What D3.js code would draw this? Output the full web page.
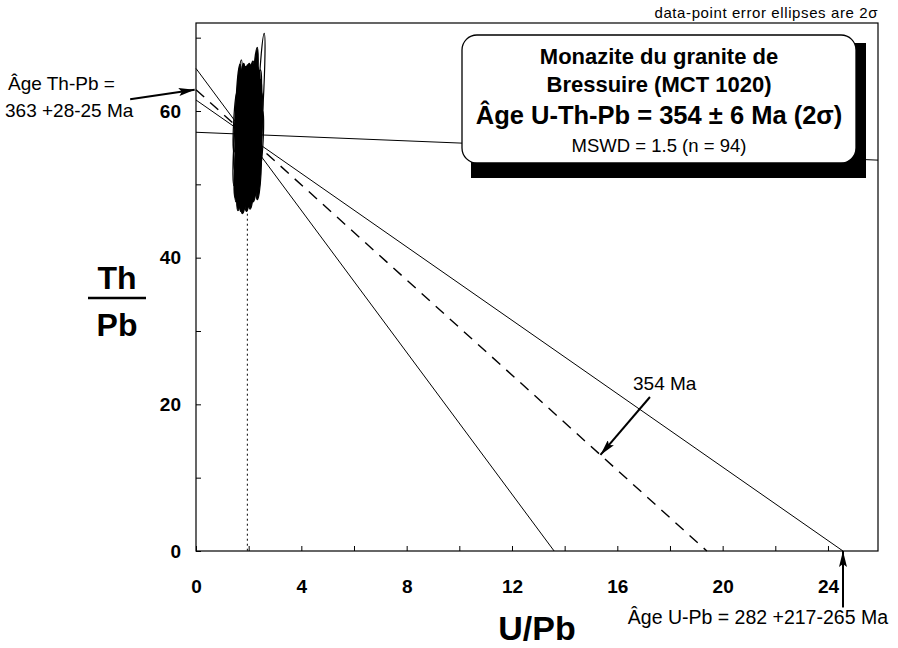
<!DOCTYPE html>
<html>
<head>
<meta charset="utf-8">
<script src="https://cdn.jsdelivr.net/npm/d3@7"></script>
<style>
body { margin: 0; background: white; }
text { font-family: "Liberation Sans", Arial, sans-serif; fill: black; }
</style>
</head>
<body>
<svg id="chart"></svg>
<script>
var chart_w = 898;
var chart_h = 648;

// plot frame
var left = 196, right = 878, top_y = 23, bottom = 551;

// axis ticks
var x_ticks = [0, 2, 4, 6, 8, 10, 12, 14, 16, 18, 20, 22, 24];
var y_ticks = [0, 10, 20, 30, 40, 50, 60, 70];

// isochron lines: start (U/Pb, Th/Pb) -> end (U/Pb, Th/Pb)
var iso_u0 = [0, 0, 0, 0];
var iso_th0 = [57.1, 65.8, 62.9, 61.5];
var iso_u1 = [25.9, 13.6, 19.4, 24.57];
var iso_th1 = [53.3, 0, 0, 0];
var iso_dash = [false, false, true, false];

// vertical dotted line (U/Pb of the data centroid)
var centroid_u = 1.95;
var centroid_th = 56.9;

// data point error ellipses (2 sigma): centre and half axes
var ell_u = [1.52,1.56,1.60,1.63,1.66,1.68,1.71,1.73,1.75,1.77,1.79,1.81,1.83,1.84,1.86,1.88,1.89,1.91,1.93,1.94,
	1.96,1.98,2.00,2.01,2.03,2.05,2.06,2.08,2.10,2.11,2.13,2.15,2.16,2.18,2.20,2.21,2.23,2.24,2.26,2.28,
	2.30,2.31,2.33,2.35,2.37,2.39,2.42,2.45,2.47,1.58,1.64,1.70,1.74,1.78,1.82,1.85,1.87,1.90,1.92,1.95,
	1.97,1.99,2.02,2.04,2.07,2.09,2.12,2.14,2.17,2.19,2.22,2.25,2.27,2.29,2.32,2.34,2.36,1.61,1.69,1.76,
	1.80,1.92,1.96,2.04,2.10,2.17,2.22,2.29,2.38,1.54,1.50,1.99,2.13,2.40];
var ell_th = [55.0,57.8,53.1,60.6,51.0,56.2,58.9,54.4,49.9,57.0,60.2,52.6,55.7,50.4,58.3,61.1,53.9,56.6,59.4,51.8,
	55.1,57.7,60.3,53.0,56.0,58.8,50.9,54.6,57.3,60.9,52.4,55.8,58.5,61.6,54.0,56.9,59.7,62.9,53.3,55.5,
	58.1,60.4,56.4,53.8,58.9,55.2,57.6,61.0,56.0,56.4,58.2,53.5,61.3,55.0,57.5,53.0,59.6,55.4,57.9,52.3,
	59.0,55.5,57.4,53.7,59.9,55.9,58.0,53.9,60.0,56.3,58.3,54.8,60.9,57.0,54.9,59.5,57.2,62.0,50.2,63.0,
	48.8,63.2,49.3,63.1,49.8,63.3,50.9,63.0,51.5,52.0,58.5,64.0,64.6,62.6];
var ell_du = [0.09,0.10,0.11,0.09,0.10,0.12,0.11,0.13,0.09,0.12,0.10,0.13,0.14,0.10,0.12,0.11,0.14,0.13,0.12,0.12,
	0.15,0.14,0.12,0.13,0.15,0.13,0.11,0.14,0.15,0.12,0.12,0.14,0.13,0.10,0.13,0.14,0.12,0.09,0.12,0.13,
	0.12,0.11,0.12,0.10,0.11,0.10,0.09,0.10,0.08,0.08,0.10,0.11,0.09,0.12,0.13,0.12,0.11,0.14,0.13,0.12,
	0.12,0.14,0.13,0.13,0.12,0.14,0.12,0.12,0.11,0.13,0.12,0.12,0.10,0.12,0.11,0.10,0.10,0.08,0.09,0.09,
	0.10,0.10,0.10,0.10,0.10,0.09,0.10,0.09,0.09,0.08,0.07,0.09,0.08,0.08];
var ell_dth = [5.2,6.0,5.5,6.4,4.6,5.8,6.3,5.1,3.6,6.8,5.9,5.4,6.1,4.0,5.7,5.0,5.6,6.2,6.0,4.7,
	5.9,6.5,5.6,5.2,6.3,5.8,3.9,5.5,6.1,5.3,4.9,5.7,6.4,4.8,5.4,6.0,5.5,5.8,4.8,5.6,
	5.9,5.2,5.0,4.2,5.4,4.6,4.9,9.6,4.0,4.3,5.0,4.6,4.9,5.2,5.5,4.4,5.1,5.3,4.9,4.5,
	5.4,5.0,5.1,4.6,5.2,5.3,4.9,4.4,5.0,5.2,4.7,4.5,4.6,4.8,4.3,4.5,4.4,4.4,3.4,3.5,
	2.8,3.1,3.0,3.2,3.2,3.0,3.3,3.1,3.6,3.8,4.1,2.5,2.2,3.0];

// arrows (data units)
var arrow_thpb = [[-2.5, 61.6], [-0.05, 62.9]];
var arrow_354 = [[17.24, 21.0], [15.36, 13.1]];
var arrow_upb = [[24.57, -7.7], [24.57, 0]];

var svg = d3.select("#chart").attr("width", chart_w).attr("height", chart_h)
	.style("background", "white");

var x = d3.scaleLinear().domain([0, 25.9]).range([left, right]);
var y = d3.scaleLinear().domain([0, 72]).range([bottom, top_y]);

var defs = svg.append("defs");
defs.append("marker").attr("id", "head")
	.attr("viewBox", "0 0 16 8").attr("refX", 16).attr("refY", 4)
	.attr("markerWidth", 16).attr("markerHeight", 8)
	.attr("markerUnits", "userSpaceOnUse").attr("orient", "auto")
	.append("path").attr("d", "M0,0 L16,4 L0,8 L3,4 Z").attr("fill", "black");

// frame
svg.append("rect").attr("x", left).attr("y", top_y)
	.attr("width", right - left).attr("height", bottom - top_y)
	.attr("fill", "none").attr("stroke", "black").attr("stroke-width", 1.2);

// axes
var x_axis = d3.axisBottom(x).tickValues(x_ticks).tickSizeInner(-5).tickSizeOuter(0).tickPadding(29)
	.tickFormat(function(d){ return d % 4 == 0 ? d : ""; });
var y_axis = d3.axisLeft(y).tickValues(y_ticks).tickSizeInner(-5).tickSizeOuter(0).tickPadding(15)
	.tickFormat(function(d){ return d % 20 == 0 ? d : ""; });

var gx = svg.append("g").attr("transform", "translate(0," + bottom + ")").call(x_axis);
var gy = svg.append("g").attr("transform", "translate(" + left + ",0)").call(y_axis);
[gx, gy].forEach(function(g){
	g.select(".domain").remove();
	g.selectAll("line").attr("stroke", "black").attr("stroke-width", 1);
	g.selectAll("text").style("font-family", "'Liberation Sans', sans-serif")
		.style("font-weight", "bold").style("font-size", "19px").attr("fill", "black");
});

// dotted vertical line
svg.append("line")
	.attr("x1", x(centroid_u)).attr("x2", x(centroid_u))
	.attr("y1", y(centroid_th)).attr("y2", y(0))
	.attr("stroke", "black").attr("stroke-width", 1).attr("stroke-dasharray", "2,3");

// isochrons
svg.selectAll(".iso").data(d3.range(iso_u0.length)).enter().append("line")
	.attr("class", "iso")
	.attr("x1", function(i){ return x(iso_u0[i]); })
	.attr("y1", function(i){ return y(iso_th0[i]); })
	.attr("x2", function(i){ return x(iso_u1[i]); })
	.attr("y2", function(i){ return y(iso_th1[i]); })
	.attr("stroke", "black")
	.attr("stroke-width", function(i){ return iso_dash[i] ? 1.4 : 1; })
	.attr("stroke-dasharray", function(i){ return iso_dash[i] ? "11,8" : null; });

// ellipses: outer / big ones stay open, the rest pile up into a solid blob
function is_open(i){
	return ell_dth[i] > 6.2 || ell_u[i] < 1.6 || ell_u[i] > 2.38;
}
var ell_g = svg.append("g");
ell_g.selectAll("ellipse").data(d3.range(ell_u.length)).enter().append("ellipse")
	.attr("transform", function(i){
		return "translate(" + x(ell_u[i]) + "," + y(ell_th[i]) + ") rotate(3)";
	})
	.attr("rx", function(i){ return x(ell_u[i] + ell_du[i]) - x(ell_u[i]); })
	.attr("ry", function(i){ return y(ell_th[i] - ell_dth[i]) - y(ell_th[i]); })
	.attr("fill", function(i){ return is_open(i) ? "none" : "black"; })
	.attr("stroke", "black").attr("stroke-width", 1.2);

// arrows
var line = d3.line().x(function(d){ return x(d[0]); }).y(function(d){ return y(d[1]); });
[arrow_thpb, arrow_354, arrow_upb].forEach(function(a){
	svg.append("path").attr("d", line(a))
		.attr("stroke", "black").attr("stroke-width", 2).attr("fill", "none")
		.attr("marker-end", "url(#head)");
});

// legend box with shadow
svg.append("rect").attr("x", 471).attr("y", 43).attr("width", 395).attr("height", 135).attr("fill", "black");
svg.append("rect").attr("x", 462).attr("y", 35).attr("width", 394).attr("height", 128)
	.attr("rx", 15).attr("ry", 15)
	.attr("fill", "white").attr("stroke", "black").attr("stroke-width", 1.3);

var cx = 659;
svg.append("text").attr("x", cx).attr("y", 64).attr("text-anchor", "middle")
	.style("font-size", "22px").style("font-weight", "bold").text("Monazite du granite de");
svg.append("text").attr("x", cx).attr("y", 92).attr("text-anchor", "middle")
	.style("font-size", "22px").style("font-weight", "bold").text("Bressuire (MCT 1020)");
svg.append("text").attr("x", cx).attr("y", 124).attr("text-anchor", "middle")
	.style("font-size", "25.5px").style("font-weight", "bold").text("Âge U-Th-Pb = 354 ± 6 Ma (2σ)");
svg.append("text").attr("x", cx).attr("y", 152).attr("text-anchor", "middle")
	.style("font-size", "18.5px").text("MSWD = 1.5 (n = 94)");

// caption
svg.append("text").attr("x", 878).attr("y", 18).attr("text-anchor", "end")
	.style("font-size", "15px").style("letter-spacing", "0.6px").text("data-point error ellipses are 2σ");

// annotations
svg.append("text").attr("x", 8).attr("y", 90).style("font-size", "19px").text("Âge Th-Pb =");
svg.append("text").attr("x", 5).attr("y", 117).style("font-size", "19px").text("363 +28-25 Ma");
svg.append("text").attr("x", 633).attr("y", 390).style("font-size", "19px").text("354 Ma");
svg.append("text").attr("x", 888).attr("y", 624).attr("text-anchor", "end")
	.style("font-size", "19.5px").text("Âge U-Pb = 282 +217-265 Ma");

// axis titles
svg.append("text").attr("x", 117).attr("y", 289).attr("text-anchor", "middle")
	.style("font-size", "32px").style("font-weight", "bold").text("Th");
svg.append("line").attr("x1", 88).attr("x2", 146).attr("y1", 298).attr("y2", 298)
	.attr("stroke", "black").attr("stroke-width", 2.5);
svg.append("text").attr("x", 117).attr("y", 336).attr("text-anchor", "middle")
	.style("font-size", "32px").style("font-weight", "bold").text("Pb");
svg.append("text").attr("x", 537).attr("y", 640).attr("text-anchor", "middle")
	.style("font-size", "34px").style("font-weight", "bold").text("U/Pb");
</script>
</body>
</html>
